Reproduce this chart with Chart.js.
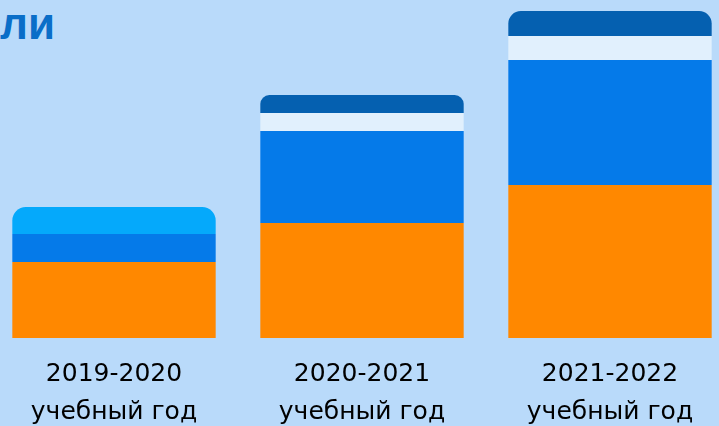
<!DOCTYPE html>
<html lang="ru">
<head>
<meta charset="utf-8">
<title>Учебные годы</title>
<script src="https://cdn.jsdelivr.net/npm/chart.js@4.4.1/dist/chart.umd.min.js"></script>
<style>
    html, body { margin: 0; padding: 0; background: #b9dafa; overflow: hidden; }
    body { width: 719px; height: 426px; position: relative; }
    #title {
        position: absolute; left: 0; top: -1px;
        font: bold 44px "Liberation Sans", Arial, sans-serif;
        color: #0a6ec8;
    }
    #wrap { position: absolute; left: -10px; top: 0; width: 744px; height: 426px; }
</style>
</head>
<body>
<div id="title">ли</div>
<div id="wrap"><canvas id="chart"></canvas></div>
<script>
// Подписи по оси X (две строки)
const years = [
    ['2019-2020', 'учебный год'],
    ['2020-2021', 'учебный год'],
    ['2021-2022', 'учебный год']
];

// Значения сегментов (снизу вверх), оценены по картинке
const orangeVals = [76, 115, 153];
const blueVals   = [28, 92, 125];
const whiteVals  = [0, 18, 24];
const cyanVals   = [27, 0, 0];
const navyVals   = [0, 18, 25];

const yMax = 338;

const seg = (data, color) => ({
    data,
    backgroundColor: color,
    borderWidth: 0,
    borderRadius: 14,
    barPercentage: 0.82,
    categoryPercentage: 1
});

new Chart(document.getElementById('chart'), {
    type: 'bar',
    data: {
        labels: years,
        datasets: [
            seg(orangeVals, '#ff8800'),
            seg(blueVals, '#057ae9'),
            seg(whiteVals, '#e1f0fd'),
            seg(cyanVals, '#05a9fb'),
            seg(navyVals, '#0560b0')
        ]
    },
    options: {
        responsive: true,
        maintainAspectRatio: false,
        animation: false,
        layout: { padding: 0 },
        plugins: {
            legend: { display: false },
            tooltip: { enabled: false },
            title: { display: false }
        },
        scales: {
            x: {
                stacked: true,
                grid: { display: false, drawTicks: false },
                border: { display: false },
                afterFit: (axis) => { axis.height = 88; },
                ticks: {
                    color: '#000',
                    padding: 18,
                    maxRotation: 0,
                    font: { family: '"DejaVu Sans", sans-serif', size: 25, lineHeight: 1.5 }
                }
            },
            y: {
                stacked: true,
                display: false,
                min: 0,
                max: yMax
            }
        }
    }
});
</script>
</body>
</html>
